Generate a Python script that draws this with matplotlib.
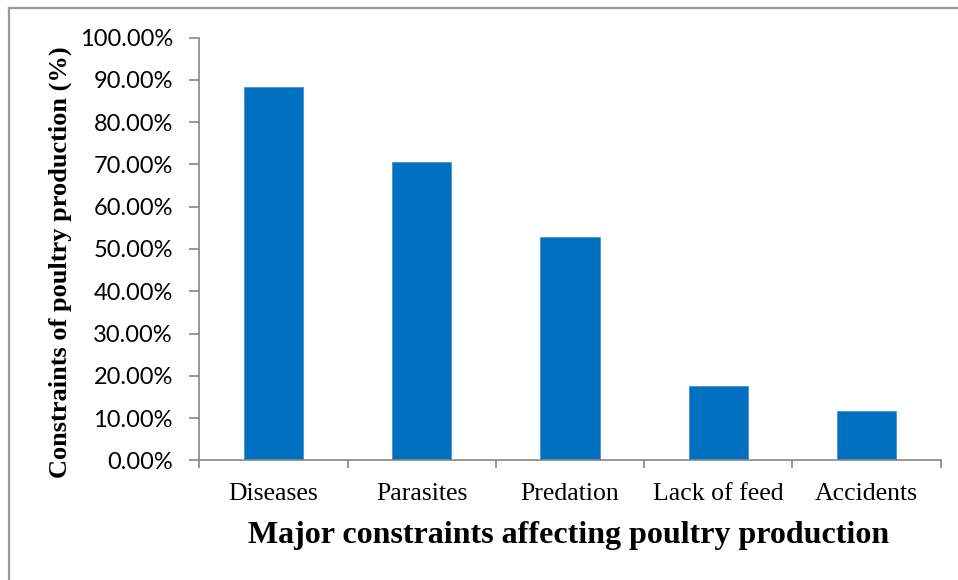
import numpy as np
import matplotlib.pyplot as plt
from matplotlib.lines import Line2D
from matplotlib.ticker import FuncFormatter, FixedLocator

constraints = ["Diseases", "Parasites", "Predation", "Lack of feed", "Accidents"]
share = [0.8824, 0.7059, 0.5294, 0.1765, 0.1176]
y_ticks = [0.0, 0.1, 0.2, 0.3, 0.4, 0.5, 0.6, 0.7, 0.8, 0.9, 1.0]

BAR_COLOR = "#0070C0"
AXIS_GRAY = "#868686"

fig = plt.figure(figsize=(9.58, 5.8), dpi=100)
ax = fig.add_axes([0.208, 0.2064, 0.774, 0.7286])

x = np.arange(len(constraints))
ax.bar(x, share, width=0.4, color=BAR_COLOR, edgecolor="#4b93d2", linewidth=0.6, zorder=2)

ax.set_xlim(-0.5, len(constraints) - 0.5)
ax.set_ylim(0, 1)

# y axis: percentage labels with two decimals
ax.yaxis.set_major_locator(FixedLocator(y_ticks))
ax.yaxis.set_major_formatter(FuncFormatter(lambda v, _: f"{v * 100:.2f}%"))
ax.tick_params(axis="y", direction="out", length=7, width=1.2, color=AXIS_GRAY,
               pad=12, labelsize=17)
for lab in ax.get_yticklabels():
    lab.set_fontfamily("Lato")

# x axis: tick marks between categories, labels centred under bars
ax.xaxis.set_major_locator(FixedLocator(np.arange(-0.5, len(constraints), 1.0)))
ax.xaxis.set_minor_locator(FixedLocator(x))
ax.xaxis.set_major_formatter(FuncFormatter(lambda v, _: ""))
ax.set_xticks(x, constraints, minor=True)
ax.tick_params(axis="x", which="major", direction="out", length=6, width=1.2, color=AXIS_GRAY)
ax.tick_params(axis="x", which="minor", length=0, pad=16, labelsize=18.5)
for lab in ax.get_xticklabels(minor=True):
    lab.set_fontfamily("Liberation Serif")

for side in ("top", "right"):
    ax.spines[side].set_visible(False)
for side in ("left", "bottom"):
    ax.spines[side].set_color(AXIS_GRAY)
    ax.spines[side].set_linewidth(1.2)

fig.text(0.594, 1 - 543 / 580, "Major constraints affecting poultry production",
         ha="center", va="baseline", fontsize=23, fontweight="bold",
         family="Liberation Serif")
fig.text(60 / 958, 1 - 262.5 / 580, "Constraints of poultry production (%)",
         rotation=90, ha="center", va="center", fontsize=19, fontweight="bold",
         family="Liberation Serif")

# chart frame (left and top edges visible)
fig.add_artist(Line2D([8.5 / 958, 8.5 / 958], [0, 1 - 7.5 / 580],
                      transform=fig.transFigure, color="#9a9a9a", lw=1.6))
fig.add_artist(Line2D([8.5 / 958, 1], [1 - 7.5 / 580, 1 - 7.5 / 580],
                      transform=fig.transFigure, color="#9a9a9a", lw=1.6))

fig.savefig("out.png", dpi=100)
